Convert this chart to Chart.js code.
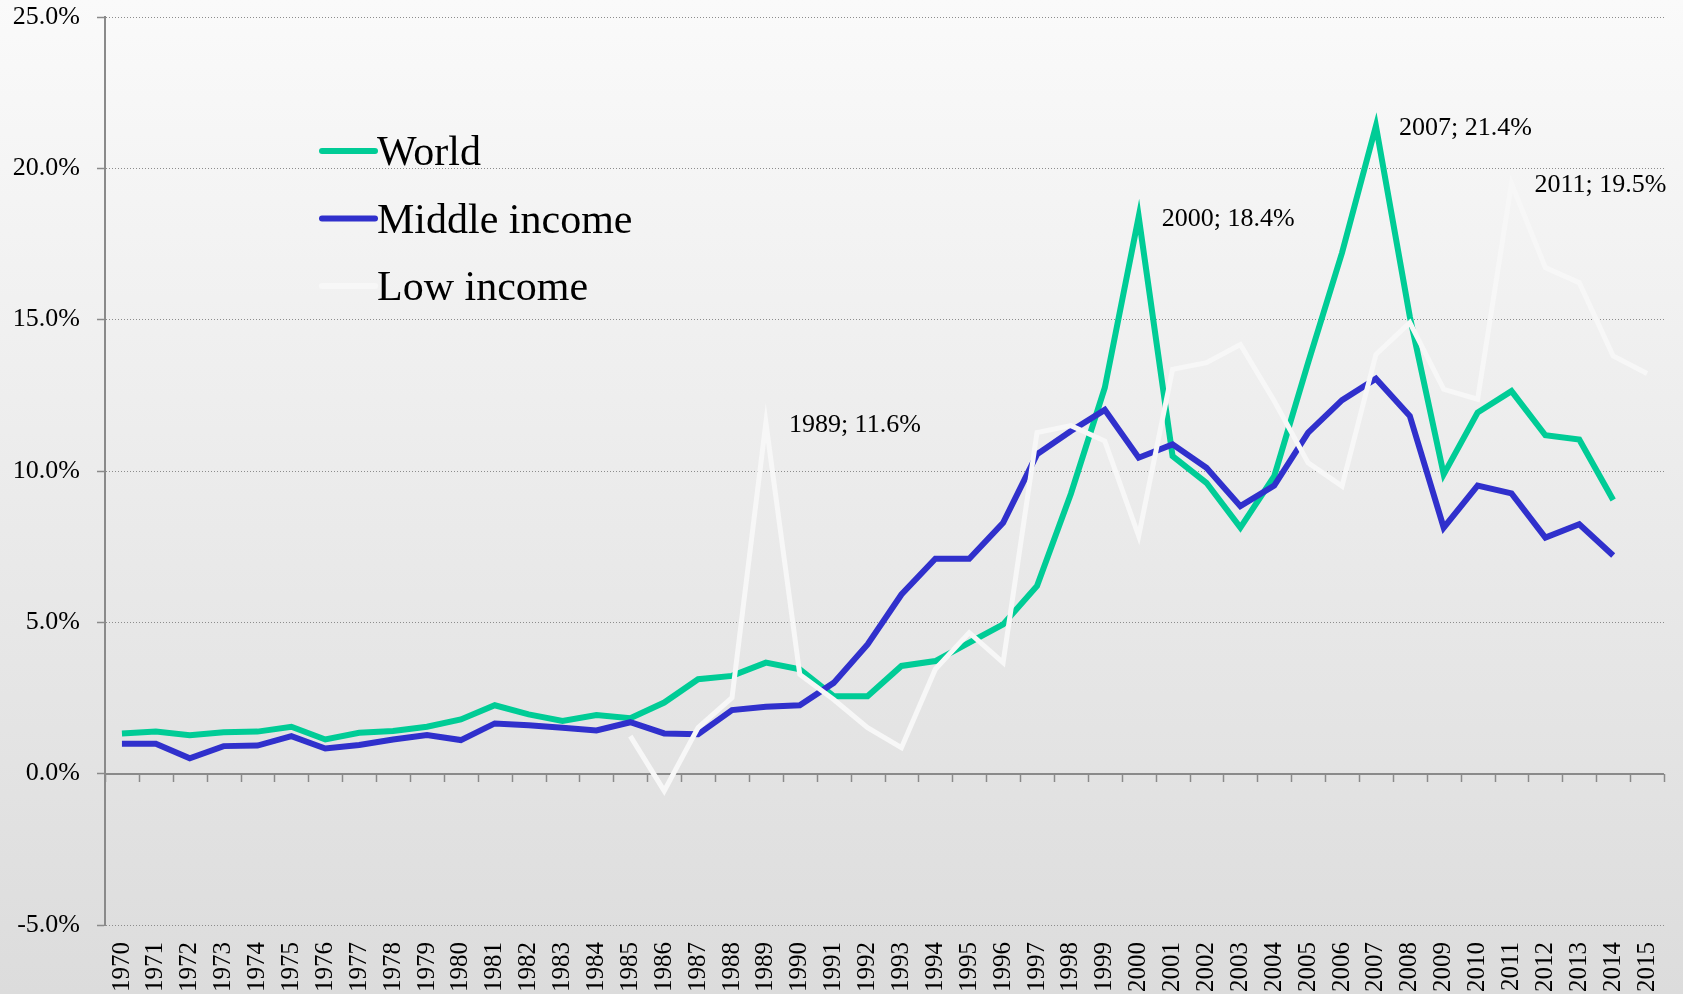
<!DOCTYPE html>
<html>
<head>
<meta charset="utf-8">
<script src="https://cdn.jsdelivr.net/npm/chart.js@4/dist/chart.umd.min.js"></script>
<style>
  html, body { margin: 0; padding: 0; }
  #wrap { width: 1683px; height: 994px; background: linear-gradient(to bottom, #fafafa 0%, #dcdcdc 100%); }
  canvas { display: block; }
</style>
</head>
<body>
<div id="wrap"><canvas id="c" width="1683" height="994"></canvas></div>
<script>
const years = ['1970','1971','1972','1973','1974','1975','1976','1977','1978','1979',
  '1980','1981','1982','1983','1984','1985','1986','1987','1988','1989',
  '1990','1991','1992','1993','1994','1995','1996','1997','1998','1999',
  '2000','2001','2002','2003','2004','2005','2006','2007','2008','2009',
  '2010','2011','2012','2013','2014','2015'];

const world = [1.33, 1.39, 1.27, 1.37, 1.39, 1.55, 1.13, 1.35, 1.41, 1.55,
  1.79, 2.26, 1.96, 1.74, 1.94, 1.83, 2.35, 3.12, 3.23, 3.67,
  3.45, 2.56, 2.56, 3.56, 3.72, 4.33, 4.93, 6.2, 9.25, 12.75,
  18.4, 10.49, 9.61, 8.13, 9.83, 13.58, 17.21, 21.4, 15.1, 9.89,
  11.93, 12.64, 11.18, 11.04, 9.04, null];

const middleIncome = [0.99, 0.99, 0.51, 0.91, 0.93, 1.24, 0.83, 0.95, 1.13, 1.28,
  1.11, 1.66, 1.60, 1.52, 1.43, 1.70, 1.33, 1.30, 2.10, 2.21,
  2.26, 3.0, 4.27, 5.92, 7.1, 7.1, 8.29, 10.55, 11.32, 12.02,
  10.44, 10.88, 10.11, 8.84, 9.52, 11.27, 12.34, 13.05, 11.82, 8.13,
  9.52, 9.26, 7.8, 8.24, 7.21, null];

const lowIncome = [null, null, null, null, null, null, null, null, null, null,
  null, null, null, null, null, 1.24, -0.57, 1.52, 2.51, 11.6,
  3.28, 2.45, 1.52, 0.86, 3.45, 4.66, 3.67, 11.27, 11.5, 10.99,
  7.85, 13.36, 13.58, 14.18, 12.31, 10.27, 9.5, 13.85, 14.9, 12.7,
  12.37, 19.5, 16.72, 16.22, 13.8, 13.22];

const yTicks = [-5, 0, 5, 10, 15, 20, 25];

const seriesNames = ['World', 'Middle income', 'Low income'];
const seriesColors = ['#00cc96', '#3030cc', '#f7f7f7'];

const callouts = [
  { series: 'Low income', year: '1989' },
  { series: 'World', year: '2000' },
  { series: 'World', year: '2007' },
  { series: 'Low income', year: '2011' }
];

const FONT = "'Liberation Serif', 'Times New Roman', serif";

const zeroAxisPlugin = {
  id: 'zeroAxis',
  beforeDatasetsDraw(chart) {
    const { ctx, chartArea, scales: { x, y } } = chart;
    const y0 = Math.round(y.getPixelForValue(0));
    const step = x.getPixelForValue(1) - x.getPixelForValue(0);
    ctx.save();
    ctx.strokeStyle = '#8a8a8a';
    ctx.lineWidth = 1.5;
    for (let i = 0; i <= years.length; i++) {
      const px = Math.round(x.getPixelForValue(i) - step / 2) + 0.5;
      ctx.beginPath();
      ctx.moveTo(px, y0);
      ctx.lineTo(px, y0 + 8);
      ctx.stroke();
    }
    ctx.lineWidth = 2;
    ctx.beginPath();
    ctx.moveTo(chartArea.left, y0);
    ctx.lineTo(chartArea.right, y0);
    ctx.stroke();
    ctx.restore();
  }
};

const legendPlugin = {
  id: 'innerLegend',
  afterDraw(chart) {
    const { ctx, chartArea } = chart;
    ctx.save();
    ctx.font = '42px ' + FONT;
    ctx.fillStyle = '#000';
    ctx.textBaseline = 'alphabetic';
    ctx.lineCap = 'round';
    chart.data.datasets.forEach((ds, i) => {
      const cy = chartArea.top + 134 + i * 67.5;
      ctx.strokeStyle = ds.borderColor;
      ctx.lineWidth = 6;
      ctx.beginPath();
      ctx.moveTo(chartArea.left + 217, cy);
      ctx.lineTo(chartArea.left + 270, cy);
      ctx.stroke();
      ctx.fillText(ds.label, chartArea.left + 272, cy + 14);
    });
    ctx.restore();
  }
};

const calloutPlugin = {
  id: 'callouts',
  afterDatasetsDraw(chart) {
    const { ctx } = chart;
    ctx.save();
    ctx.font = '26px ' + FONT;
    ctx.fillStyle = '#000';
    ctx.textBaseline = 'alphabetic';
    callouts.forEach(c => {
      const di = chart.data.datasets.findIndex(d => d.label === c.series);
      const idx = years.indexOf(c.year);
      const v = chart.data.datasets[di].data[idx];
      const el = chart.getDatasetMeta(di).data[idx];
      ctx.fillText(c.year + '; ' + v.toFixed(1) + '%', el.x + 23, el.y + 9);
    });
    ctx.restore();
  }
};

const seriesData = [world, middleIncome, lowIncome];

new Chart(document.getElementById('c'), {
  type: 'line',
  data: {
    labels: years,
    datasets: seriesNames.map((name, i) => ({
      label: name,
      data: seriesData[i],
      borderColor: seriesColors[i],
      backgroundColor: seriesColors[i],
      borderWidth: i === 2 ? 5 : 6,
      pointRadius: 0,
      pointHoverRadius: 0,
      tension: 0,
      fill: false,
      spanGaps: false,
      order: 2 - i
    }))
  },
  options: {
    responsive: false,
    animation: false,
    events: [],
    layout: { padding: { left: 0, right: 19, top: 17, bottom: 0 } },
    plugins: { legend: { display: false }, tooltip: { enabled: false } },
    scales: {
      x: {
        type: 'category',
        offset: true,
        grid: { display: false, drawTicks: false, tickLength: 0 },
        border: { display: false },
        ticks: {
          autoSkip: false, minRotation: 90, maxRotation: 90, padding: 17,
          color: '#000', font: { family: FONT, size: 25 }
        },
        afterFit(s) { s.height = 69; s.paddingLeft = 0; s.paddingRight = 0; }
      },
      y: {
        min: -5, max: 25,
        afterBuildTicks(s) { s.ticks = yTicks.map(v => ({ value: v })); },
        grid: {
          color: '#8c8c8c', lineWidth: 1,
          drawTicks: true, tickLength: 8, tickColor: '#8a8a8a', tickBorderDash: [], tickWidth: 1.5
        },
        border: { display: true, color: '#8a8a8a', width: 2, dash: [1, 2] },
        ticks: {
          padding: 17, color: '#000', font: { family: FONT, size: 26 },
          callback: v => v.toFixed(1) + '%'
        },
        afterFit(s) { s.width = 105; s.paddingTop = 0; s.paddingBottom = 0; }
      }
    }
  },
  plugins: [zeroAxisPlugin, calloutPlugin, legendPlugin]
});
</script>
</body>
</html>
